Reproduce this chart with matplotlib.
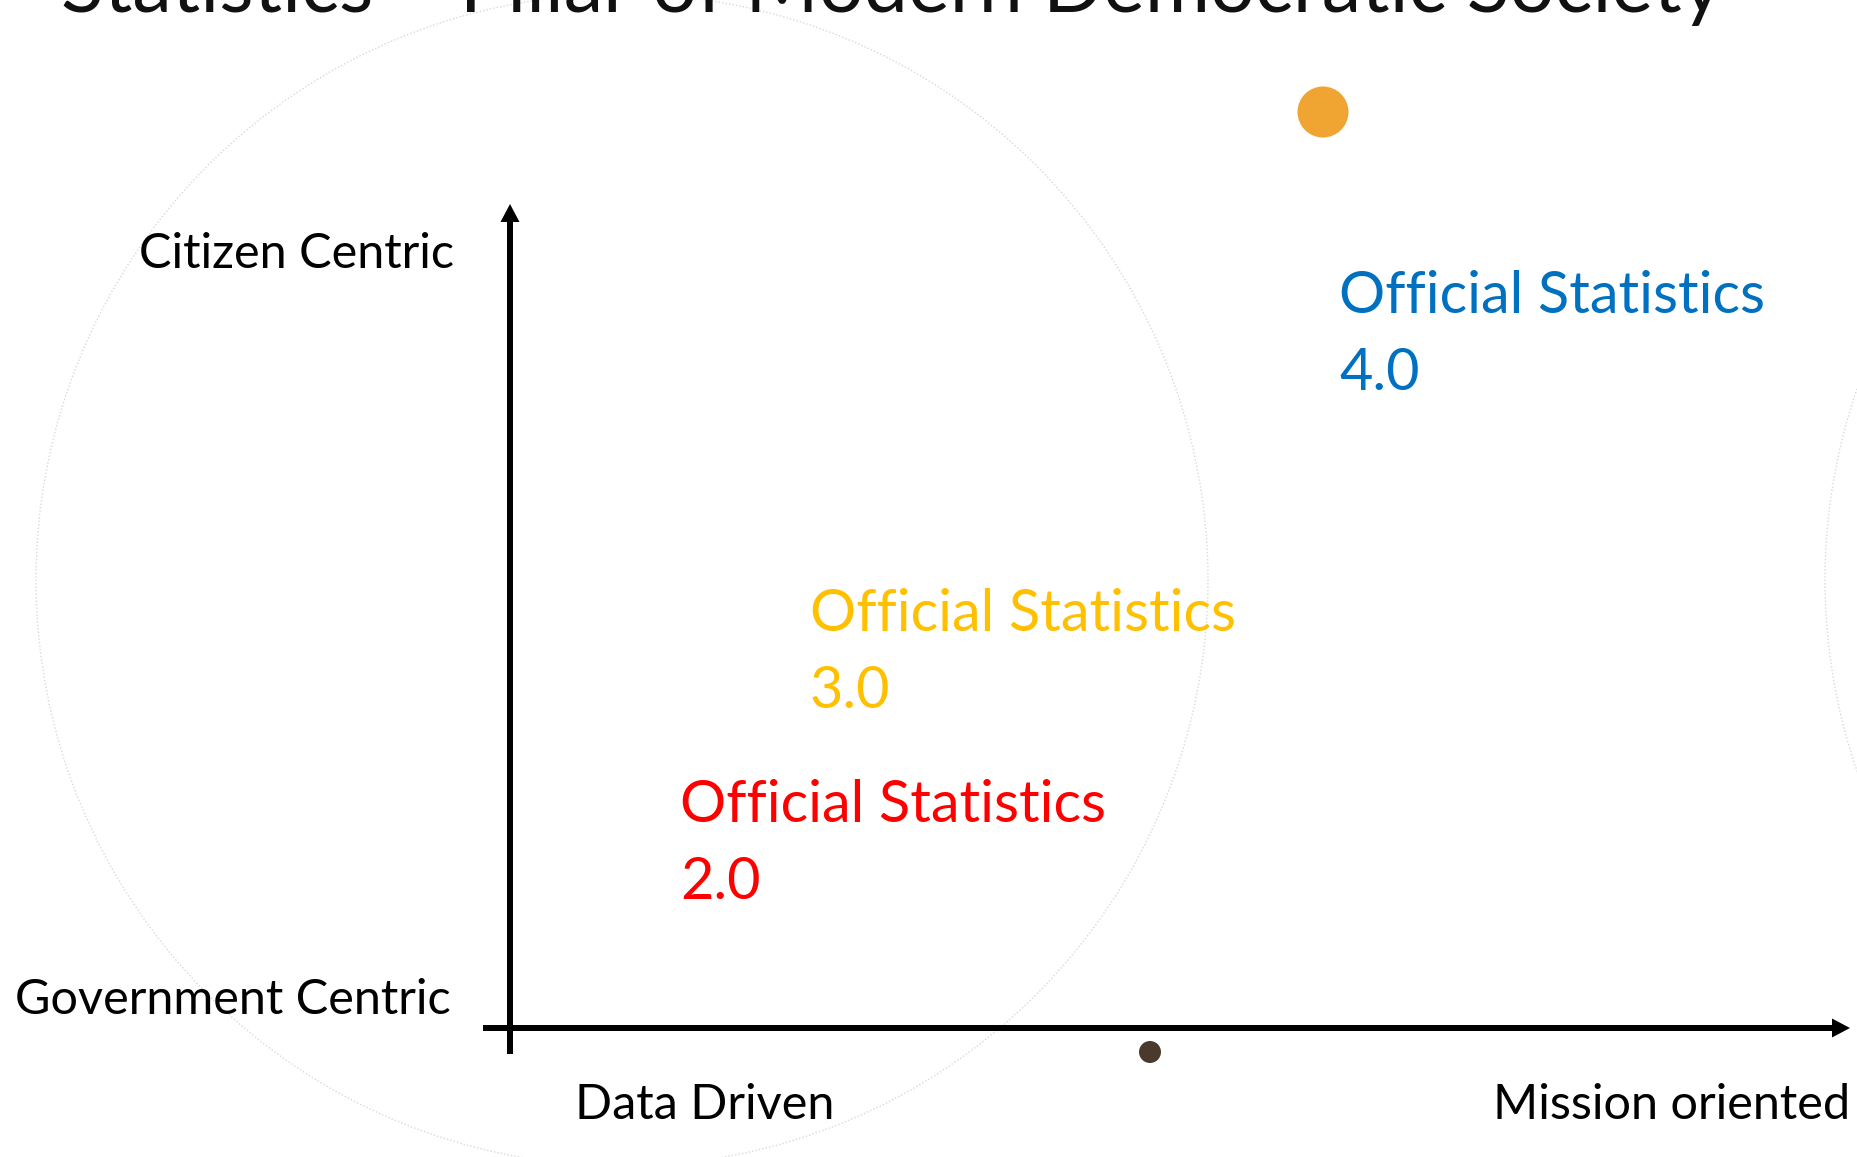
import matplotlib
matplotlib.use("Agg")
import matplotlib.pyplot as plt
from matplotlib.patches import Circle, FancyArrow

plt.rcParams["font.family"] = ["Lato", "DejaVu Sans"]

# Canvas in pixels
W, H = 1857, 1157

# Text content
title = "Statistics \u2013 Pillar of Modern Democratic Society"
y_labels = ["Citizen Centric", "Government Centric"]
x_labels = ["Data Driven", "Mission oriented"]
stage_names = ["Official Statistics", "Official Statistics", "Official Statistics"]
stage_versions = ["2.0", "3.0", "4.0"]
stage_colors = ["#FF0000", "#FFC000", "#0070C0"]

# Layout (pixel positions: x, baseline of first line)
stage_pos = [(680, 822), (810, 631), (1339, 313)]
line_gap = 77
origin = (510, 1028)
x_end, y_end = 1850, 204

fig = plt.figure(figsize=(W / 100, H / 100), dpi=100)
ax = fig.add_axes([0, 0, 1, 1])
ax.set_xlim(0, W)
ax.set_ylim(H, 0)
ax.axis("off")

# faint background circles
for cx in (622, 2411):
    ax.add_patch(Circle((cx, 580), 586, fill=False, ec="#D9D9D9", lw=1, ls=(0, (1, 1.5))))

# decorative dots
ax.add_patch(Circle((1323, 112), 25.5, color="#F0A431", lw=0))
ax.add_patch(Circle((1150, 1052), 11, color="#4A3A2E", lw=0))

# axes arrows
ax.add_patch(FancyArrow(483, origin[1], x_end - 483, 0, width=6, head_width=19,
                        head_length=18, length_includes_head=True, color="black", lw=0))
ax.add_patch(FancyArrow(origin[0], 1054, 0, y_end - 1054, width=6, head_width=19,
                        head_length=18, length_includes_head=True, color="black", lw=0))

ax.text(892, 12, title, fontsize=57, color="#111111", ha="center", va="baseline")

ax.text(454, 268, y_labels[0], fontsize=35, ha="right", va="baseline")
ax.text(451, 1014, y_labels[1], fontsize=35, ha="right", va="baseline")
ax.text(575, 1119, x_labels[0], fontsize=35, ha="left", va="baseline")
ax.text(1850, 1119, x_labels[1], fontsize=35, ha="right", va="baseline")

for name, ver, col, (px, py) in zip(stage_names, stage_versions, stage_colors, stage_pos):
    ax.text(px, py, name, fontsize=41.5, color=col, ha="left", va="baseline")
    ax.text(px, py + line_gap, ver, fontsize=41.5, color=col, ha="left", va="baseline")

fig.savefig("out.png", dpi=100)
